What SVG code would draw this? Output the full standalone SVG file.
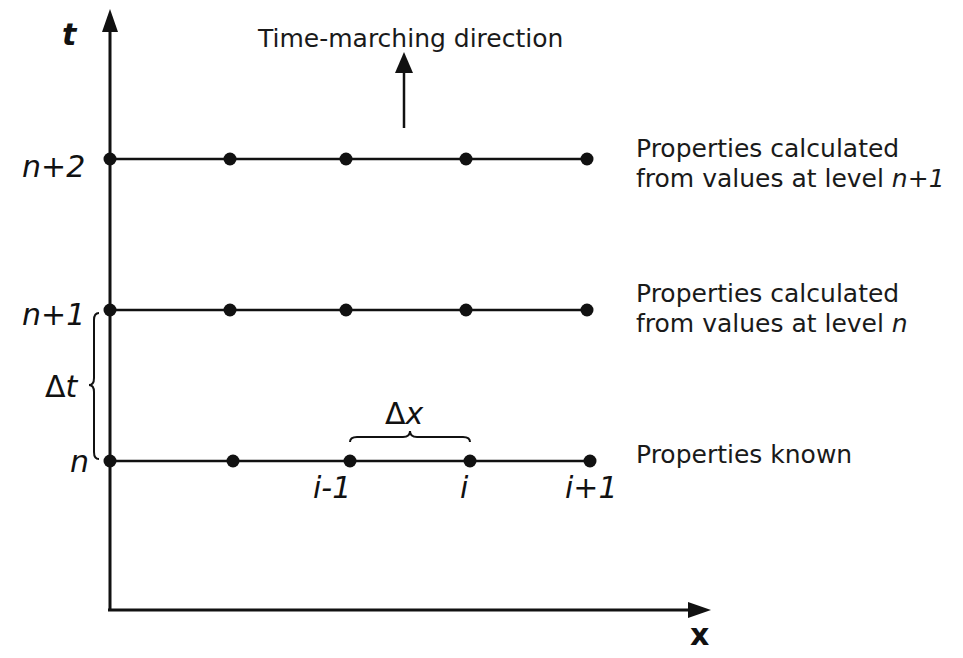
<svg xmlns="http://www.w3.org/2000/svg" width="963" height="658" viewBox="0 0 963 658">
<style>
.txt{font-family:"DejaVu Sans",Verdana,sans-serif;font-size:25px;fill:#1a1a1a}
.lab{font-family:"DejaVu Sans",Verdana,sans-serif;font-size:30px;font-style:italic;fill:#111}
.up{font-style:normal}
.it{font-style:italic}
.bold{font-weight:bold}
.ax{stroke:#111;stroke-width:3;fill:none}
.ln{stroke:#111;stroke-width:2.5;fill:none}
.br{stroke:#111;stroke-width:2;fill:none}
.dot{fill:#111}
</style>
<rect width="963" height="658" fill="#fff"/>
<g id="connectors">
<line class="ax" x1="110" y1="610" x2="110" y2="30"/>
<path d="M102,32 L110,9 L118,32 z" fill="#111"/>
<line class="ax" x1="108" y1="610" x2="690" y2="610"/>
<path d="M688,602 L711,610 L688,618 z" fill="#111"/>
<line class="ln" x1="404" y1="128" x2="404" y2="70"/>
<path d="M395,73 L404,52 L413,73 z" fill="#111"/>
<line class="ln" x1="110" y1="159" x2="587" y2="159"/>
<line class="ln" x1="110" y1="310" x2="587" y2="310"/>
<line class="ln" x1="110" y1="461" x2="590" y2="461"/>
<path class="br" d="M99,313 Q94,313 94,320 L94,378 Q94,385 89,385 Q94,385 94,392 L94,452 Q94,459 99,459"/>
<path class="br" d="M350,442 Q350,437 357,437 L403,437 Q410,437 410,431 Q410,437 417,437 L463,437 Q470,437 470,442"/>
</g>
<g id="row-n2">
<circle class="dot" cx="110" cy="159" r="6.5"/><circle class="dot" cx="230" cy="159" r="6.5"/><circle class="dot" cx="346" cy="159" r="6.5"/><circle class="dot" cx="466" cy="159" r="6.5"/><circle class="dot" cx="587" cy="159" r="6.5"/>
</g>
<g id="row-n1">
<circle class="dot" cx="110" cy="310" r="6.5"/><circle class="dot" cx="230" cy="310" r="6.5"/><circle class="dot" cx="346" cy="310" r="6.5"/><circle class="dot" cx="466" cy="310" r="6.5"/><circle class="dot" cx="587" cy="310" r="6.5"/>
</g>
<g id="row-n">
<circle class="dot" cx="110" cy="461" r="6.5"/><circle class="dot" cx="233" cy="461" r="6.5"/><circle class="dot" cx="350" cy="461" r="6.5"/><circle class="dot" cx="470" cy="461" r="6.5"/><circle class="dot" cx="590" cy="461" r="6.5"/>
</g>
<g id="labels">
<text class="lab bold" x="62" y="45">t</text>
<text class="lab bold up" x="690" y="645">x</text>
<text class="lab" x="22" y="177">n+2</text>
<text class="lab" x="22" y="325">n+1</text>
<text class="lab up" x="45" y="397">Δ<tspan class="it">t</tspan></text>
<text class="lab" x="70" y="472">n</text>
<text class="lab up" x="385" y="424">Δ<tspan class="it">x</tspan></text>
<text class="lab" x="313" y="498">i-1</text>
<text class="lab" x="460" y="498">i</text>
<text class="lab" x="565" y="498">i+1</text>
</g>
<g id="annotations">
<text class="txt" x="258" y="47">Time-marching direction</text>
<text class="txt" x="636" y="157">Properties calculated</text>
<text class="txt" x="636" y="187">from values at level <tspan class="it">n+1</tspan></text>
<text class="txt" x="636" y="302">Properties calculated</text>
<text class="txt" x="636" y="332">from values at level <tspan class="it">n</tspan></text>
<text class="txt" x="636" y="463">Properties known</text>
</g>
</svg>
